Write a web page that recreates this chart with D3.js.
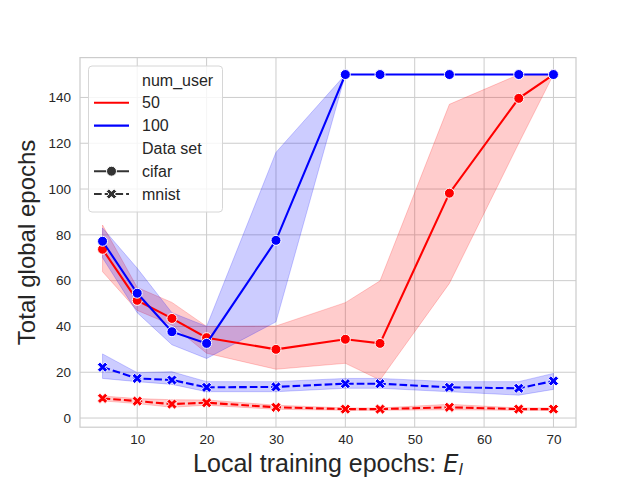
<!DOCTYPE html>
<html>
<head>
<meta charset="utf-8">
<script src="https://cdn.jsdelivr.net/npm/d3@7"></script>
<style>
  body { margin: 0; background: #fff; }
  text { font-family: "Liberation Sans", Arial, sans-serif; fill: #262626; }
</style>
</head>
<body>
<div class="container"></div>
<script>
const WIDTH = 640;
const HEIGHT = 480;
const LEFT = 80, TOP = 57.6, RIGHT = 64, BOTTOM = 52.8;
const INNER_WIDTH = WIDTH - LEFT - RIGHT;
const INNER_HEIGHT = HEIGHT - TOP - BOTTOM;

// local epochs
var epochs = [5, 10, 15, 20, 30, 40, 45, 55, 65, 70];

// cifar, 50 users
var cifar50 = [73.7, 51.4, 43.5, 35.1, 30.0, 34.4, 32.6, 98.2, 139.6, 150];
var cifar50Lo = [63.9, 47, 40.6, 28.3, 21.3, 23.9, 16.6, 58.8, 120, 150];
var cifar50Hi = [84.3, 57, 50.5, 40, 40.2, 50.4, 59.9, 137, 150, 150];

// cifar, 100 users
var cifar100 = [77.2, 54.5, 37.7, 32.6, 77.6, 150, 150, 150, 150, 150];
var cifar100Lo = [70, 46, 32, 26, 42, 150, 150, 150, 150, 150];
var cifar100Hi = [83, 65.4, 46, 40, 116, 150, 150, 150, 150, 150];

// mnist, 50 users
var mnist50 = [8.6, 7.4, 6.1, 6.7, 4.7, 3.9, 3.9, 4.7, 3.9, 3.9];
var mnist50Lo = [7.5, 6.3, 4.7, 5.6, 3.8, 3.4, 3.4, 3.6, 3.4, 3.4];
var mnist50Hi = [9.6, 8.5, 8.0, 7.9, 5.6, 4.4, 4.4, 6.0, 4.4, 4.4];

// mnist, 100 users
var mnist100 = [22.2, 17.3, 16.6, 13.4, 13.6, 15.0, 15.0, 13.4, 13.0, 16.2];
var mnist100Lo = [17.3, 15.9, 14.7, 11.5, 11.5, 13.0, 13.0, 11.5, 10.0, 12.5];
var mnist100Hi = [28, 19.8, 20.2, 15.9, 15.9, 17.3, 17.3, 15.9, 15.9, 19.5];

var xTicks = [10, 20, 30, 40, 50, 60, 70];
var yTicks = [0, 20, 40, 60, 80, 100, 120, 140];

var hueLabels = ['50', '100'];
var hueColors = ['red', 'blue'];
var styleLabels = ['cifar', 'mnist'];

var translate = function (x, y) {
  return "translate(" + x + "," + y + ")";
};

var display = function () {
  var svg = d3.select('.container').append('svg')
    .attr('width', WIDTH)
    .attr('height', HEIGHT);

  var xScale = d3.scaleLinear()
    .domain([1.75, 73.25])
    .range([0, INNER_WIDTH]);

  var yScale = d3.scaleLinear()
    .domain([-4.0, 157.4])
    .range([INNER_HEIGHT, 0]);

  var g = svg.append('g').attr('transform', translate(LEFT, TOP));

  // grid
  g.selectAll('.vgrid').data(xTicks).enter().append('line')
    .attr('x1', function (d) { return xScale(d); })
    .attr('x2', function (d) { return xScale(d); })
    .attr('y1', 0).attr('y2', INNER_HEIGHT)
    .attr('stroke', '#cccccc').attr('stroke-width', 1);
  g.selectAll('.hgrid').data(yTicks).enter().append('line')
    .attr('y1', function (d) { return yScale(d); })
    .attr('y2', function (d) { return yScale(d); })
    .attr('x1', 0).attr('x2', INNER_WIDTH)
    .attr('stroke', '#cccccc').attr('stroke-width', 1);

  g.append('rect')
    .attr('width', INNER_WIDTH).attr('height', INNER_HEIGHT)
    .attr('fill', 'none').attr('stroke', '#cccccc').attr('stroke-width', 1.2);

  // axes (labels only)
  var xAxis = d3.axisBottom(xScale).tickValues(xTicks).tickSize(0).tickPadding(7);
  var yAxis = d3.axisLeft(yScale).tickValues(yTicks).tickSize(0).tickPadding(9);

  var xg = g.append('g').attr('transform', translate(0, INNER_HEIGHT)).call(xAxis);
  var yg = g.append('g').call(yAxis);
  [xg, yg].forEach(function (a) {
    a.select('.domain').remove();
    a.selectAll('text')
      .style('font-family', '"Liberation Sans", Arial, sans-serif')
      .style('font-size', '13.5px')
      .attr('fill', '#262626');
  });

  var series = [
    { mid: cifar50, lo: cifar50Lo, hi: cifar50Hi, color: hueColors[0], dashed: false },
    { mid: mnist50, lo: mnist50Lo, hi: mnist50Hi, color: hueColors[0], dashed: true },
    { mid: cifar100, lo: cifar100Lo, hi: cifar100Hi, color: hueColors[1], dashed: false },
    { mid: mnist100, lo: mnist100Lo, hi: mnist100Hi, color: hueColors[1], dashed: true }
  ];

  var area = d3.area()
    .x(function (i) { return xScale(epochs[i]); });

  var idx = d3.range(epochs.length);

  // bands go under all lines
  series.forEach(function (s) {
    g.append('path')
      .datum(idx)
      .attr('d', area
        .y0(function (i) { return yScale(s.lo[i]); })
        .y1(function (i) { return yScale(s.hi[i]); }))
      .attr('fill', s.color)
      .attr('fill-opacity', 0.2)
      .attr('stroke', s.color)
      .attr('stroke-opacity', 0.2)
      .attr('stroke-width', 1);
  });

  var line = d3.line()
    .x(function (i) { return xScale(epochs[i]); });

  var cross = d3.symbol().type(d3.symbolCross).size(66);

  series.forEach(function (s) {
    g.append('path')
      .datum(idx)
      .attr('d', line.y(function (i) { return yScale(s.mid[i]); }))
      .attr('fill', 'none')
      .attr('stroke', s.color)
      .attr('stroke-width', 2.1)
      .attr('stroke-dasharray', s.dashed ? '7.7,3' : null);

    if (s.dashed) {
      g.selectAll(null).data(idx).enter().append('path')
        .attr('d', cross)
        .attr('transform', function (i) {
          return translate(xScale(epochs[i]), yScale(s.mid[i])) + ' rotate(45)';
        })
        .attr('fill', s.color)
        .attr('stroke', 'white')
        .attr('stroke-width', 0.9);
    } else {
      g.selectAll(null).data(idx).enter().append('circle')
        .attr('cx', function (i) { return xScale(epochs[i]); })
        .attr('cy', function (i) { return yScale(s.mid[i]); })
        .attr('r', 5)
        .attr('fill', s.color)
        .attr('stroke', 'white')
        .attr('stroke-width', 1);
    }
  });

  // axis titles
  svg.append('text')
    .attr('x', LEFT + INNER_WIDTH / 2)
    .attr('y', 472)
    .attr('text-anchor', 'middle')
    .style('font-size', '25px')
    .text('Local training epochs: ')
    .append('tspan')
    .style('font-family', '"DejaVu Sans", sans-serif')
    .style('font-style', 'italic')
    .style('font-size', '24px')
    .text('E')
    .append('tspan')
    .attr('baseline-shift', '-20%')
    .style('font-size', '16px')
    .text('l');

  svg.append('text')
    .attr('transform', translate(34.5, TOP + INNER_HEIGHT / 2) + ' rotate(-90)')
    .attr('text-anchor', 'middle')
    .style('font-size', '24px')
    .text('Total global epochs');

  // legend
  var leg = svg.append('g').attr('transform', translate(88.5, 66));
  leg.append('rect')
    .attr('width', 134).attr('height', 146)
    .attr('rx', 3.5)
    .attr('fill', 'white').attr('fill-opacity', 0.8)
    .attr('stroke', '#d6d6d6').attr('stroke-width', 1);

  var entries = [{ label: 'num_user' }];
  hueLabels.forEach(function (h, i) { entries.push({ label: h, color: hueColors[i] }); });
  entries.push({ label: 'Data set' });
  styleLabels.forEach(function (st, i) { entries.push({ label: st, color: '#333333', dashed: i === 1 }); });

  var rowY = function (i) { return 14 + i * 22.8; };

  entries.forEach(function (e, i) {
    var y = rowY(i);
    leg.append('text')
      .attr('x', 53.5).attr('y', y)
      .attr('dy', '0.35em')
      .style('font-size', '16px')
      .text(e.label);
    if (!e.color) return;
    leg.append('line')
      .attr('x1', 5.5).attr('x2', 40.5)
      .attr('y1', y).attr('y2', y)
      .attr('stroke', e.color)
      .attr('stroke-width', 2.1)
      .attr('stroke-dasharray', e.dashed ? '7.7,3' : null);
    if (e.label === 'cifar') {
      leg.append('circle').attr('cx', 23).attr('cy', y).attr('r', 5)
        .attr('fill', e.color).attr('stroke', 'white').attr('stroke-width', 1);
    } else if (e.label === 'mnist') {
      leg.append('path').attr('d', cross)
        .attr('transform', translate(23, y) + ' rotate(45)')
        .attr('fill', e.color).attr('stroke', 'white').attr('stroke-width', 0.9);
    }
  });
};

window.onload = function () {
  display();
};
</script>
</body>
</html>
